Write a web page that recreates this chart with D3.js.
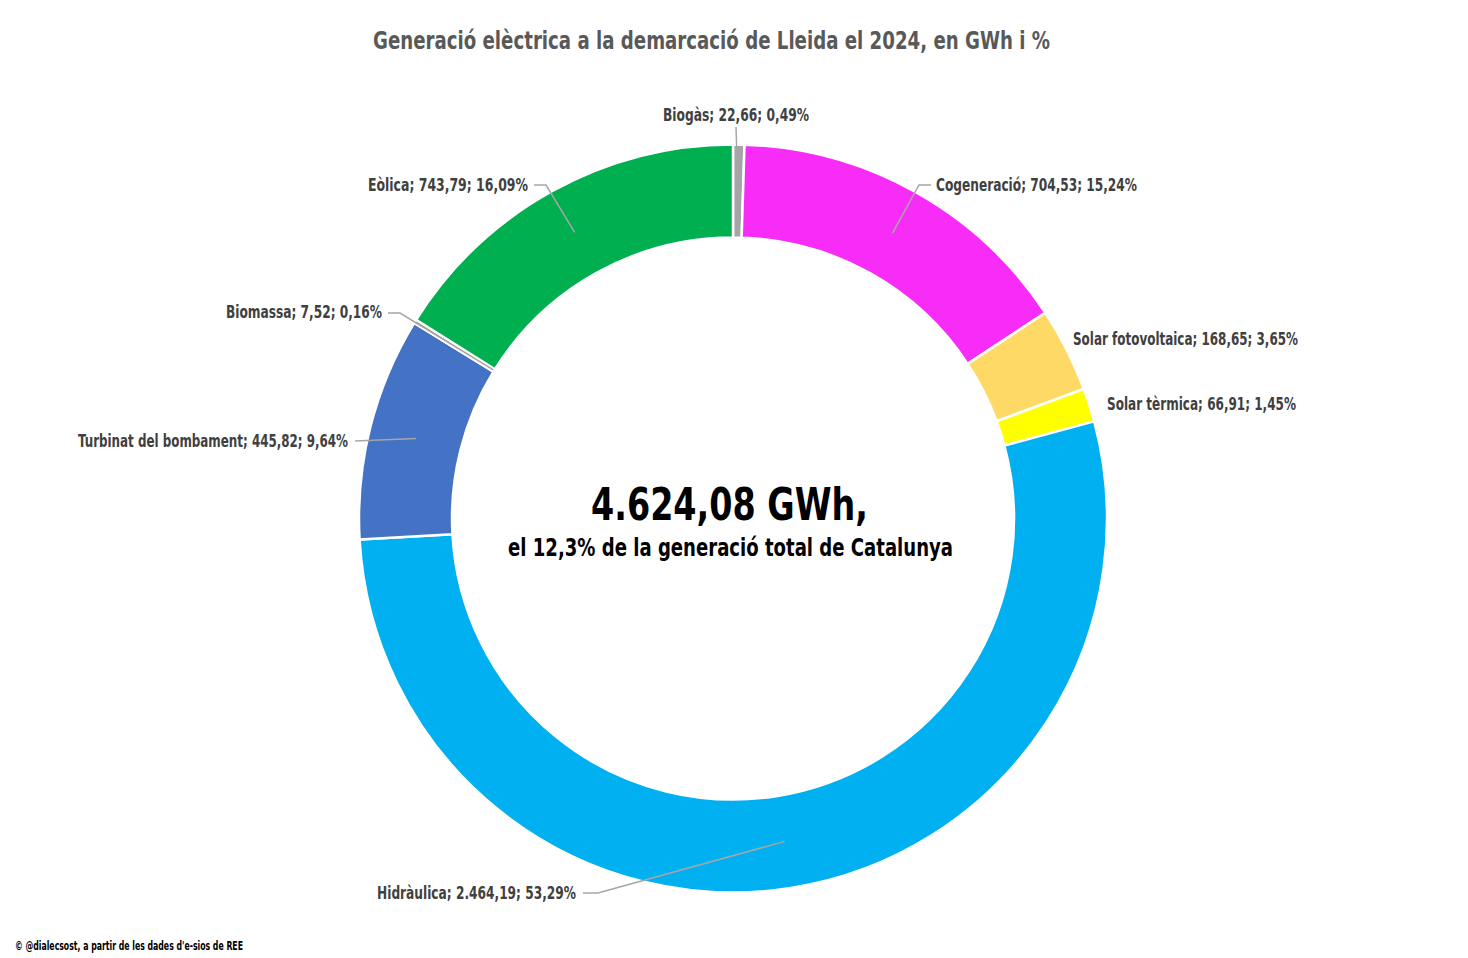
<!DOCTYPE html>
<html>
<head>
<meta charset="utf-8">
<script src="https://cdn.jsdelivr.net/npm/d3@7"></script>
<style>
  html, body { margin: 0; padding: 0; background: #fff; }
  svg { display: block; }
  .cond { font-family: "Liberation Sans Narrow", "Arial Narrow", "DejaVu Sans Condensed", sans-serif; font-weight: bold; }
</style>
</head>
<body>
<svg id="chart" width="1468" height="958"></svg>
<script>
// ---- data ----
const categories = ["Biogàs", "Cogeneració", "Solar fotovoltaica", "Solar tèrmica", "Hidràulica", "Turbinat del bombament", "Biomassa", "Eòlica"];
const valuesGWh = [22.66, 704.53, 168.65, 66.91, 2464.19, 445.82, 7.52, 743.79];
const percents = [0.49, 15.24, 3.65, 1.45, 53.29, 9.64, 0.16, 16.09];
const colors = ["#a5a5a5", "#f72df7", "#ffd966", "#ffff00", "#00b0f0", "#4472c4", "#7f7f7f", "#00b050"];
const titleText = "Generació elèctrica a la demarcació de Lleida el 2024, en GWh i %";
const centerLine1 = "4.624,08 GWh,";
const centerLine2 = "el 12,3% de la generació total de Catalunya";
const sourceText = "© @dialecsost, a partir de les dades d'e-sios de REE";

// ---- layout ----
const W = 1468, H = 958;
const cx = 733, cy = 518.5, rOuter = 374, rInner = 281;
// label placement: left x, width, centre y, leader polyline start/elbow, leader end radius
const labelLayout = {
  "Biogàs":               { x: 663,  w: 146, y: 115, pts: [[736, 127]], r: 327 },
  "Cogeneració":          { x: 936,  w: 201, y: 185, pts: [[931, 185], [919, 185]], r: 327 },
  "Solar fotovoltaica":   { x: 1073, w: 225, y: 339, pts: null },
  "Solar tèrmica":        { x: 1107, w: 189, y: 404, pts: null },
  "Hidràulica":           { x: 377,  w: 199, y: 893, pts: [[583, 893], [598, 893]], r: 327 },
  "Turbinat del bombament": { x: 78, w: 270, y: 441, pts: [[355, 441]], r: 327 },
  "Biomassa":             { x: 226,  w: 156, y: 312, pts: [[388, 313], [400, 313]], r: 282 },
  "Eòlica":               { x: 368,  w: 160, y: 185, pts: [[534, 185], [546, 185]], r: 327 }
};

const locale = d3.formatLocale({ decimal: ",", thousands: ".", grouping: [3], currency: ["", "€"] });
const fmtVal = locale.format(",.2f");
const fmtPct = locale.format(".2f");

const svg = d3.select("#chart");
svg.append("rect").attr("width", W).attr("height", H).attr("fill", "#fff");

function fitText(sel, x, w, y, size, color, txt) {
  return sel.append("text").attr("class", "cond")
    .attr("x", x).attr("y", y).attr("dy", "0.36em")
    .attr("text-anchor", "start").attr("font-size", size).attr("fill", color)
    .attr("textLength", w).attr("lengthAdjust", "spacingAndGlyphs")
    .text(txt);
}

// title
fitText(svg, 373, 677, 40, 24, "#595959", titleText);

const data = categories.map((c, i) => ({ cat: c, value: valuesGWh[i], pct: percents[i], color: colors[i] }));

const pie = d3.pie().sort(null).value(d => d.value).startAngle(0).endAngle(2 * Math.PI);
const arcs = pie(data);
const arc = d3.arc().innerRadius(rInner).outerRadius(rOuter);

const g = svg.append("g").attr("transform", `translate(${cx},${cy})`);
g.selectAll("path.slice").data(arcs).join("path")
  .attr("class", "slice")
  .attr("d", arc)
  .attr("fill", d => d.data.color)
  .attr("stroke", "#fff").attr("stroke-width", 2.5).attr("stroke-linejoin", "round");

// leader lines
arcs.forEach(a => {
  const L = labelLayout[a.data.cat];
  if (!L.pts) return;
  const mid = (a.startAngle + a.endAngle) / 2;
  const ax = cx + L.r * Math.sin(mid), ay = cy - L.r * Math.cos(mid);
  const pts = L.pts.concat([[ax, ay]]);
  svg.append("path")
    .attr("d", d3.line()(pts))
    .attr("fill", "none").attr("stroke", "#a6a6a6").attr("stroke-width", 1.5);
});

// labels
arcs.forEach(a => {
  const L = labelLayout[a.data.cat];
  fitText(svg, L.x, L.w, L.y, 17, "#404040",
    `${a.data.cat}; ${fmtVal(a.data.value)}; ${fmtPct(a.data.pct)}%`);
});

// center text
fitText(svg, 591, 277, 504, 45, "#000", centerLine1);
fitText(svg, 508, 445, 547, 24, "#000", centerLine2);

// source
fitText(svg, 15, 228, 946, 11.5, "#000", sourceText);
</script>
</body>
</html>
